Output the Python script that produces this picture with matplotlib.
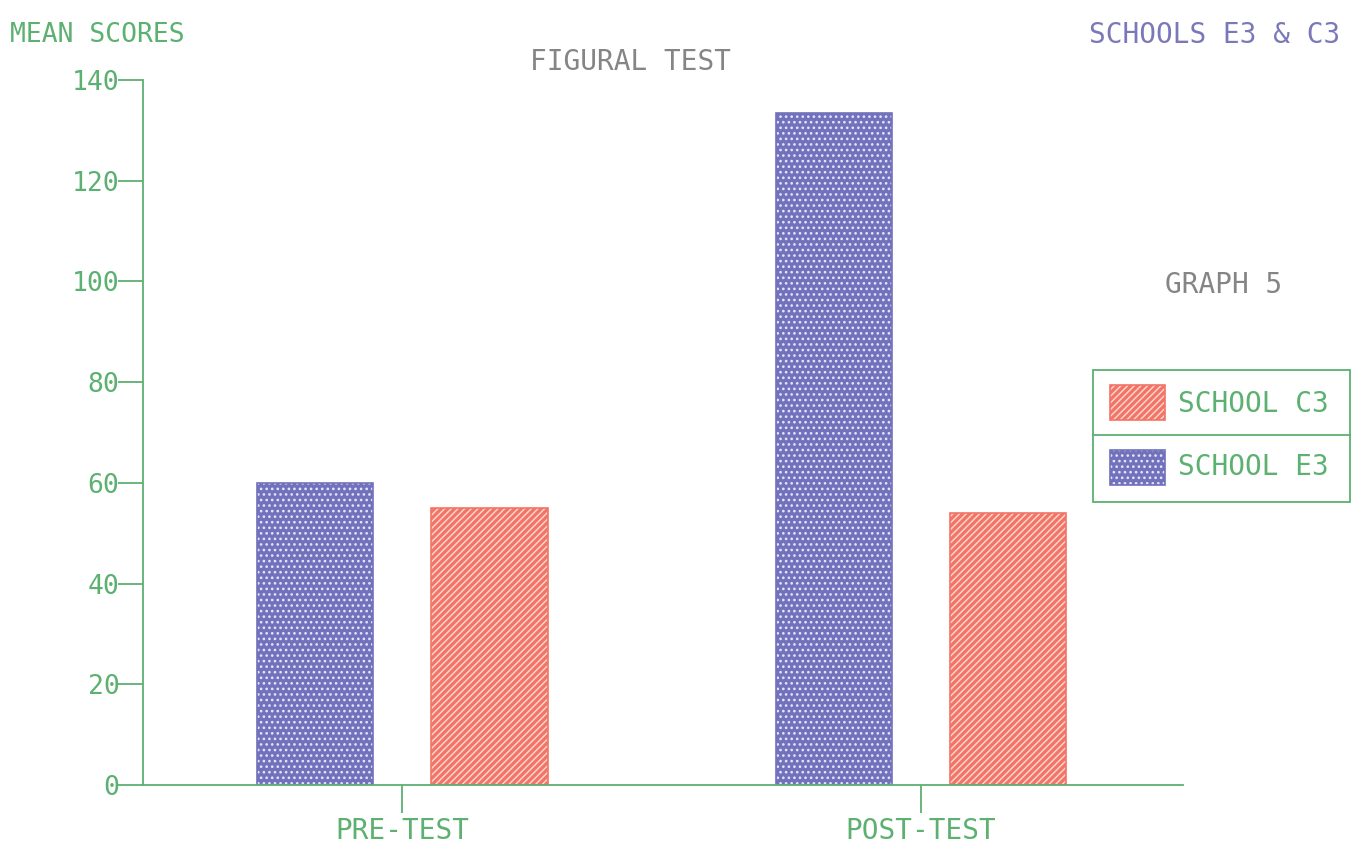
import matplotlib
matplotlib.use("Agg")
import matplotlib.pyplot as plt
from matplotlib.patches import Rectangle
from matplotlib.lines import Line2D
import numpy as np

categories = ["PRE-TEST", "POST-TEST"]
school_e3 = [60, 133.5]
school_c3 = [55, 54]
yticks = [0, 20, 40, 60, 80, 100, 120, 140]

GREEN = "#5cb070"
BLUE = "#7272bc"
BLUE_DOT = "#e4e4fa"
RED = "#f27468"
RED_STRIPE = "#ffd4c8"
GRAY = "#858585"
PURPLE = "#7a78b8"
FONT = "DejaVu Sans Mono"

plt.rcParams["hatch.linewidth"] = 1.1

W, H = 1353, 847
fig = plt.figure(figsize=(W / 100, H / 100), dpi=100)
ax = fig.add_axes([143 / W, 1 - 785 / H, (1183 - 143) / W, (785 - 80) / H])

x = np.arange(len(categories))
bw = 0.224
off = 0.168

# E3 bars: blue with light dots
ax.bar(x - off, school_e3, bw, color=BLUE, edgecolor=BLUE_DOT, hatch="...", linewidth=0)
ax.bar(x - off, school_e3, bw, fill=False, edgecolor=BLUE, linewidth=1.2)
# C3 bars: red with light diagonal stripes
ax.bar(x + off, school_c3, bw, color=RED, edgecolor=RED_STRIPE, hatch="/////", linewidth=0)
ax.bar(x + off, school_c3, bw, fill=False, edgecolor=RED, linewidth=1.2)

ax.set_xlim(-0.5, 1.505)
ax.set_ylim(0, 140)
for s in ["top", "right"]:
    ax.spines[s].set_visible(False)
for s in ["left", "bottom"]:
    ax.spines[s].set_color(GREEN)
    ax.spines[s].set_linewidth(1.3)
ax.set_yticks(yticks)
ax.set_yticklabels([str(v) for v in yticks], fontfamily=FONT, fontsize=19, color=GREEN)
ax.set_xticks(x)
ax.set_xticklabels(categories, fontfamily=FONT, fontsize=20, color=GREEN)
ax.tick_params(axis="y", colors=GREEN, length=18, width=1.3, pad=-1, labelcolor=GREEN)
ax.tick_params(axis="x", colors=GREEN, length=20, width=1.3, pad=3, labelcolor=GREEN)

fig.text(10 / W, 1 - 35 / H, "MEAN SCORES", fontfamily=FONT, fontsize=19, color=GREEN, va="center", ha="left")
fig.text(630 / W, 1 - 62 / H, "FIGURAL TEST", fontfamily=FONT, fontsize=20, color=GRAY, va="center", ha="center")
fig.text(1340 / W, 1 - 35 / H, "SCHOOLS E3 & C3", fontfamily=FONT, fontsize=20, color=PURPLE, va="center", ha="right")
fig.text(1224 / W, 1 - 285 / H, "GRAPH 5", fontfamily=FONT, fontsize=20, color=GRAY, va="center", ha="center")

# Legend box
def fx(px):
    return px / W

def fy(py):
    return 1 - py / H

tf = fig.transFigure
fig.add_artist(Rectangle((fx(1093), fy(502)), fx(1350) - fx(1093), fy(370) - fy(502),
                         transform=tf, fill=False, edgecolor=GREEN, linewidth=1.3))
fig.add_artist(Line2D([fx(1093), fx(1350)], [fy(435), fy(435)], transform=tf, color=GREEN, linewidth=1.3))
# C3 entry
fig.add_artist(Rectangle((fx(1110), fy(420)), fx(1165) - fx(1110), fy(385) - fy(420), transform=tf,
                         facecolor=RED, edgecolor=RED_STRIPE, hatch="/////", linewidth=0))
fig.add_artist(Rectangle((fx(1110), fy(420)), fx(1165) - fx(1110), fy(385) - fy(420), transform=tf,
                         fill=False, edgecolor=RED, linewidth=1.2))
fig.text(fx(1178), fy(404), "SCHOOL C3", fontfamily=FONT, fontsize=20, color=GREEN, va="center", ha="left")
# E3 entry
fig.add_artist(Rectangle((fx(1110), fy(485)), fx(1165) - fx(1110), fy(450) - fy(485), transform=tf,
                         facecolor=BLUE, edgecolor=BLUE_DOT, hatch="...", linewidth=0))
fig.add_artist(Rectangle((fx(1110), fy(485)), fx(1165) - fx(1110), fy(450) - fy(485), transform=tf,
                         fill=False, edgecolor=BLUE, linewidth=1.2))
fig.text(fx(1178), fy(467), "SCHOOL E3", fontfamily=FONT, fontsize=20, color=GREEN, va="center", ha="left")

fig.savefig("out.png", dpi=100, facecolor="white")
